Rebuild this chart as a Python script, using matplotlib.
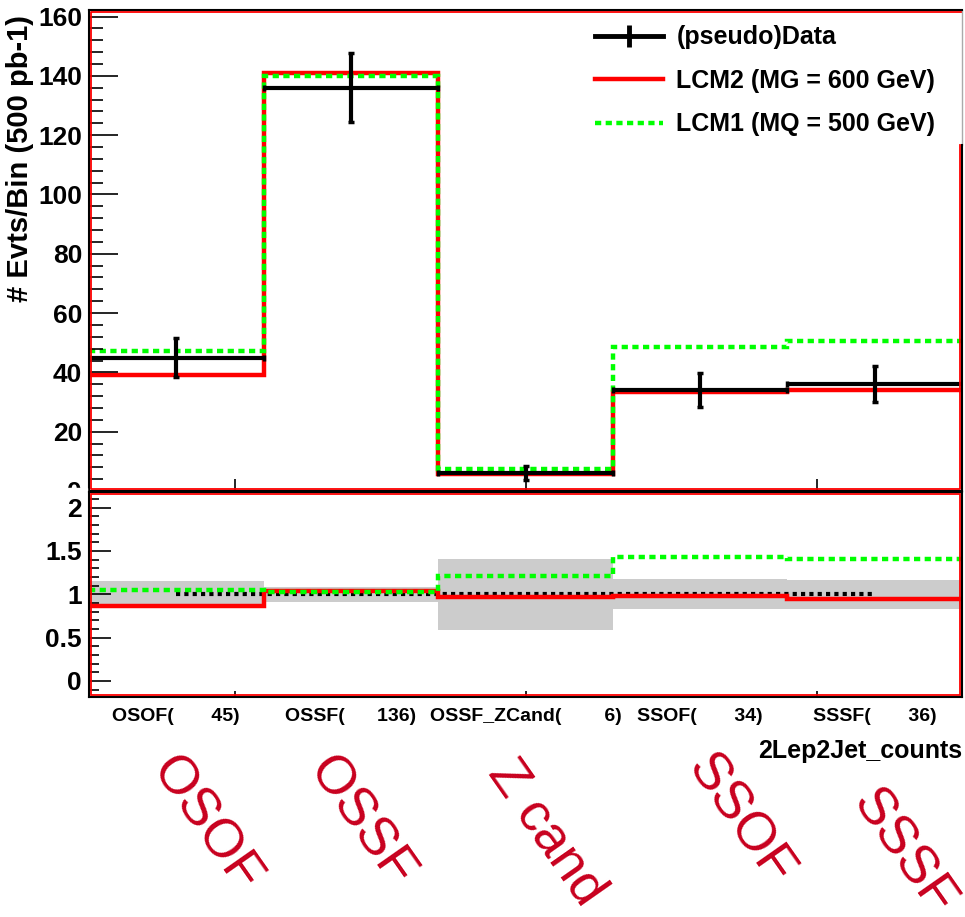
import numpy as np
import matplotlib.pyplot as plt
from matplotlib.patches import Rectangle
from matplotlib.lines import Line2D

plt.rcParams['font.family'] = ['Liberation Sans', 'DejaVu Sans']
plt.rcParams['font.weight'] = 'bold'

# ------------------------------
# Data (2Lep2Jet_counts, 500 pb-1)
# ------------------------------
categories = ["OSOF", "OSSF", "OSSF_ZCand", "SSOF", "SSSF"]
cat_names = ["OSOF", "OSSF", "Z cand", "SSOF", "SSSF"]
data_counts = np.array([45, 136, 6, 34, 36])
lcm2_counts = np.array([39.1, 141.0, 5.8, 33.3, 34.1])
lcm1_counts = np.array([47.2, 139.8, 7.3, 48.6, 50.7])

# ------------------------------
# Layout (pixels of a 965x917 canvas)
# ------------------------------
W, H = 965, 917
x0, x1 = 89, 962
top_y0, top_y1 = 10, 491
rat_y0, rat_y1 = 492, 697
xtick_pos = [5 / 6, 2.5, 25 / 6]
# centres of the big rotated category names
name_xy = [(205, 825), (361, 822), (546, 832), (740, 820), (903, 853)]
legend_cut = 0.719  # right frame edge is hidden above this (axes fraction)

red = '#ff0000'
green = '#00ff00'
dark_red = '#c8001e'
dots = (0, (1.4, 1.0))

fig = plt.figure(figsize=(W / 100, H / 100), dpi=100)
ax1 = fig.add_axes([x0 / W, 1 - top_y1 / H, (x1 - x0) / W, (top_y1 - top_y0) / H])
ax2 = fig.add_axes([x0 / W, 1 - rat_y1 / H, (x1 - x0) / W, (rat_y1 - rat_y0) / H])
ax1.set_zorder(0)
ax2.set_zorder(2)

edges = np.arange(len(categories) + 1)
centers = edges[:-1] + 0.5

# ------------------------------
# Top panel
# ------------------------------
h2 = ax1.stairs(lcm2_counts, edges, baseline=None, color=red, lw=3.2)
h1 = ax1.stairs(lcm1_counts, edges, baseline=None, color=green, lw=3.2, ls=dots)
ax1.errorbar(centers, data_counts, xerr=0.5, yerr=np.sqrt(data_counts), fmt='none',
             ecolor='black', elinewidth=3, capsize=2.5, capthick=2.5)
hd = Line2D([], [], color='black', lw=3.5, marker='|', markersize=16, markeredgewidth=3.5)

ax1.set_xlim(0, 5)
ax1.set_ylim(0, 162.2)
ax1.set_xticks(xtick_pos)
ax1.set_yticks(np.arange(0, 161, 20))
ax1.set_yticks(np.arange(0, 161, 4), minor=True)
ax1.tick_params(axis='x', direction='in', length=9, width=1.2, labelbottom=False)
ax1.tick_params(axis='y', which='major', direction='in', length=21, width=1.2, labelsize=19, pad=5)
ax1.tick_params(axis='y', which='minor', direction='in', length=10, width=1.2)
ax1.set_ylabel('# Evts/Bin (500 pb-1)', loc='top', fontsize=21, fontweight='bold', labelpad=3)
ax1.yaxis.label.set_y(0.99)

leg = ax1.legend([hd, h2, h1], ['(pseudo)Data', 'LCM2 (MG = 600 GeV)', 'LCM1 (MQ = 500 GeV)'],
                 loc='upper left', bbox_to_anchor=((595 - x0) / (x1 - x0), 0.968), frameon=False,
                 prop={'family': 'Liberation Sans', 'weight': 'bold', 'size': 18},
                 handlelength=2.7, handletextpad=0.55, labelspacing=0.78, borderpad=0, borderaxespad=0)

# ------------------------------
# Ratio panel
# ------------------------------
rel_err = np.sqrt(data_counts) / data_counts
ax2.bar(centers, 2 * rel_err, bottom=1 - rel_err, width=1, color='#cccccc', lw=0, zorder=1)
ax2.plot(centers, data_counts / data_counts, color='black', lw=3, ls=(0, (1, 1)), zorder=2)
ax2.stairs(lcm2_counts / data_counts, edges, baseline=None, color=red, lw=3.2, zorder=3)
ax2.stairs(lcm1_counts / data_counts, edges, baseline=None, color=green, lw=3.2, ls=dots, zorder=4)

ax2.set_xlim(0, 5)
ax2.set_ylim(-0.185, 2.18)
ax2.xaxis.remove_overlapping_locs = False
ax2.set_xticks(xtick_pos)
ax2.set_xticks(centers, [f"{c}({n:>9d})" for c, n in zip(categories, data_counts)], minor=True)
ax2.set_yticks([0, 0.5, 1, 1.5, 2], ['0', '0.5', '1', '1.5', '2'])
ax2.set_yticks(np.arange(-0.1, 2.15, 0.1), minor=True)
ax2.tick_params(axis='x', which='major', direction='in', length=4.5, width=1.2, labelbottom=False)
ax2.tick_params(axis='x', which='minor', length=0, pad=8, labelsize=14)
ax2.tick_params(axis='y', which='major', direction='in', length=16, width=1.2, labelsize=19, pad=5)
ax2.tick_params(axis='y', which='minor', direction='in', length=7, width=1.2)
ax2.set_xlabel('2Lep2Jet_counts', loc='right', fontsize=18, fontweight='bold', labelpad=10)

# frames: black line with a red line just inside
for ax, hpx in [(ax1, top_y1 - top_y0), (ax2, rat_y1 - rat_y0)]:
    for s in ax.spines.values():
        s.set_linewidth(1.5)
        s.set_zorder(6)
    dx, dy = 2 / (x1 - x0), 2 / hpx
    if ax is ax1:
        # legend box sits over the upper part of the right edge
        ax.spines['right'].set_bounds(0, legend_cut * 162.2)
        ax.plot([1 - dx, 1 - dx, dx, dx, 1], [legend_cut, dy, dy, 1 - dy, 1 - dy], color=red, lw=1.3,
                transform=ax.transAxes, clip_on=False, zorder=5)
        ax.plot([1, 1], [legend_cut, 1], color='#aaaaaa', lw=1, transform=ax.transAxes,
                clip_on=False, zorder=5)
    else:
        ax.add_patch(Rectangle((dx, dy), 1 - 2 * dx, 1 - 2 * dy, transform=ax.transAxes,
                               fill=False, ec=red, lw=1.3, zorder=5, clip_on=False))

# ratio pad hides the lower half of the top panel's "0"
fig.add_artist(Rectangle((0, 0), (x0 - 2) / W, 1 - 488 / H, transform=fig.transFigure,
                         color='white', zorder=1))

# big rotated category names
for name, (px, py) in zip(cat_names, name_xy):
    fig.text(px / W, 1 - py / H, name, rotation=-55, rotation_mode='anchor', ha='center', va='center',
             fontsize=39, fontweight='normal', color=dark_red, family='Liberation Sans')

fig.savefig('out.png', dpi=100)
